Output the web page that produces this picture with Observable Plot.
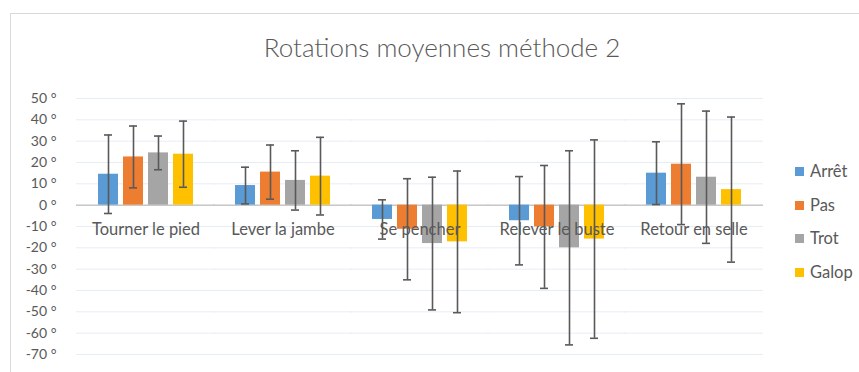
<!DOCTYPE html>
<html>
<head>
<meta charset="utf-8">
<script src="https://cdn.jsdelivr.net/npm/d3@7"></script>
<script src="https://cdn.jsdelivr.net/npm/@observablehq/plot@0.6"></script>
<style>
  body { margin: 0; background: #fff; }
  #wrap { position: relative; width: 859px; height: 372px; overflow: hidden; font-family: Lato, "Open Sans", sans-serif; color: #595959; }
  #frame { position: absolute; left: 10px; top: 13px; width: 900px; height: 400px; border-left: 1px solid #d9d9d9; border-top: 1px solid #d9d9d9; }
  #title { position: absolute; left: 0; width: 884px; top: 31px; text-align: center; font-size: 26px; font-weight: 300; line-height: 32px; }
  #chart { position: absolute; left: 0; top: 0; }
  #legend { position: absolute; left: 795px; top: 0; font-size: 16.5px; }
  .item { position: absolute; left: 0; white-space: nowrap; display: flex; align-items: center; }
  .sw { width: 9px; height: 9px; margin-right: 6px; }
</style>
</head>
<body>
<div id="wrap">
  <div id="frame"></div>
  <div id="title">Rotations moyennes méthode 2</div>
  <div id="chart"></div>
  <div id="legend"></div>
</div>
<script>
const categories = ["Tourner le pied", "Lever la jambe", "Se pencher", "Relever le buste", "Retour en selle"];
const series = ["Arrêt", "Pas", "Trot", "Galop"];
const colors = ["#5B9BD5", "#ED7D31", "#A5A5A5", "#FFC000"];

const arret = [14.5, 9.2, -6.7, -7.3, 15.0];
const pas   = [22.6, 15.5, -11.3, -10.2, 19.2];
const trot  = [24.5, 11.6, -18.0, -20.0, 13.1];
const galop = [23.9, 13.6, -17.2, -15.9, 7.3];

const arretSd = [18.4, 8.6, 9.2, 20.7, 14.7];
const pasSd   = [14.5, 12.7, 23.7, 28.8, 28.3];
const trotSd  = [7.9, 13.9, 31.1, 45.5, 31.0];
const galopSd = [15.5, 18.2, 33.2, 46.5, 34.0];

const yTicks = [-70, -60, -50, -40, -30, -20, -10, 0, 10, 20, 30, 40, 50];

const means = [arret, pas, trot, galop];
const sds = [arretSd, pasSd, trotSd, galopSd];
const data = [];
categories.forEach((c, i) => {
  series.forEach((s, j) => {
    data.push({cat: c, series: s, mean: means[j][i], sd: sds[j][i]});
  });
});
const grid = [];
categories.forEach(c => yTicks.forEach(t => grid.push({cat: c, y: t})));

const errColor = "#595959";
const ext = -22;

const chart = Plot.plot({
  width: 859,
  height: 372,
  marginLeft: 75,
  marginRight: 96,
  marginTop: 98,
  marginBottom: 18,
  style: {fontFamily: "Lato, 'Open Sans', sans-serif", color: "#595959", background: "transparent", fontSize: "14px"},
  fx: {domain: categories, paddingInner: 0.31, paddingOuter: 0.155, axis: null, label: null},
  x: {domain: series, paddingInner: 0.2, paddingOuter: 0, axis: null, label: null},
  y: {domain: [-70, 50], ticks: yTicks, tickFormat: d => `${d} °`, tickSize: 0, tickPadding: 42, label: null},
  color: {domain: series, range: colors},
  marks: [
    Plot.ruleY(grid, {fx: "cat", y: "y", stroke: "#e7edf4", strokeWidth: 1, insetLeft: ext, insetRight: ext}),
    Plot.ruleY(categories, {fx: d => d, y: d => 0, stroke: "#c8c8c8", strokeWidth: 1.5, insetLeft: ext, insetRight: ext}),
    Plot.barY(data, {fx: "cat", x: "series", y: "mean", fill: "series"}),
    Plot.text(categories, {fx: d => d, y: d => 0, text: d => d, dy: 25, fontSize: 16.5, fill: "#595959"}),
    Plot.ruleX(data, {fx: "cat", x: "series", y1: d => d.mean - d.sd, y2: d => d.mean + d.sd, stroke: errColor, strokeWidth: 1.6}),
    Plot.tickY(data, {fx: "cat", x: "series", y: d => d.mean + d.sd, stroke: errColor, strokeWidth: 1.6, insetLeft: 6, insetRight: 6}),
    Plot.tickY(data, {fx: "cat", x: "series", y: d => d.mean - d.sd, stroke: errColor, strokeWidth: 1.6, insetLeft: 6, insetRight: 6})
  ]
});
document.getElementById("chart").appendChild(chart);

const legend = document.getElementById("legend");
const legendTops = [171, 205, 238, 272];
series.forEach((s, j) => {
  const it = document.createElement("div");
  it.className = "item";
  it.style.top = (legendTops[j] - 10) + "px";
  it.style.height = "20px";
  it.innerHTML = `<span class="sw" style="background:${colors[j]}"></span><span>${s}</span>`;
  legend.appendChild(it);
});
</script>
</body>
</html>
